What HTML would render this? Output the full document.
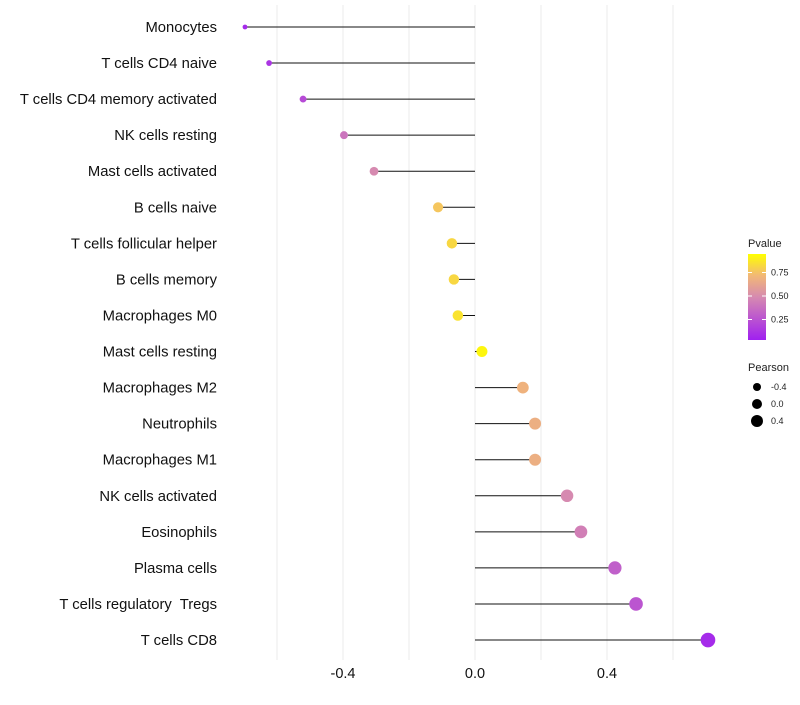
<!DOCTYPE html>
<html><head><meta charset="utf-8"><style>
body{margin:0;background:#fff;font-family:"Liberation Sans",sans-serif}
svg text{font-family:"Liberation Sans",sans-serif;white-space:pre}
</style></head><body>
<svg id="chart" width="800" height="700"></svg>
<script>
const categories=["Monocytes","T cells CD4 naive","T cells CD4 memory activated","NK cells resting","Mast cells activated","B cells naive","T cells follicular helper","B cells memory","Macrophages M0","Mast cells resting","Macrophages M2","Neutrophils","Macrophages M1","NK cells activated","Eosinophils","Plasma cells","T cells regulatory  Tregs","T cells CD8"];
const pearson=[-0.697,-0.624,-0.521,-0.397,-0.306,-0.112,-0.070,-0.064,-0.052,0.021,0.145,0.182,0.182,0.279,0.321,0.424,0.488,0.706];
const pvalue=[0.05,0.1,0.2,0.4,0.5,0.8,0.86,0.86,0.9,0.97,0.72,0.7,0.7,0.5,0.45,0.3,0.25,0.05];
const xTicks=[-0.4,0.0,0.4];
const pTicks=[0.25,0.5,0.75];
const sTicks=[-0.4,0.0,0.4];

const NS="http://www.w3.org/2000/svg";
const svg=document.getElementById('chart');
function el(t,a,p){const e=document.createElementNS(NS,t);for(const k in a)e.setAttribute(k,a[k]);(p||svg).appendChild(e);return e;}
const xS=v=>475+v*330;
const yS=i=>27+i*36.06;
function lerp(a,b,t){return a.map((v,i)=>Math.round(v+(b[i]-v)*t));}
const stops=[[0,[160,32,240]],[0.5,[214,138,176]],[0.75,[242,184,118]],[1,[255,255,0]]];
function col(p){for(let i=1;i<stops.length;i++){if(p<=stops[i][0]){const t=(p-stops[i-1][0])/(stops[i][0]-stops[i-1][0]);const c=lerp(stops[i-1][1],stops[i][1],t);return `rgb(${c})`;}}return 'rgb(255,255,0)';}
const rS=v=>Math.sqrt(4+(v+0.75)*34);

for(let v=-0.6;v<=0.61;v+=0.2){const g=el('line',{x1:xS(v),x2:xS(v),y1:5,y2:660,stroke:'#ebebeb','stroke-width':1});}
xTicks.forEach(v=>{const t=el('text',{x:xS(v),y:678,'text-anchor':'middle','font-size':14.5,fill:'#111'});t.textContent=v.toFixed(1);});
categories.forEach((c,i)=>{
 const t=el('text',{x:217,y:yS(i)+5,'text-anchor':'end','font-size':14.8,fill:'#111'});t.textContent=c;
 
 const l=el('line',{x1:xS(0),x2:xS(pearson[i]),y1:yS(i),y2:yS(i),stroke:'#111','stroke-width':1});
 
 const d=el('circle',{cx:xS(pearson[i]),cy:yS(i),r:rS(pearson[i]),fill:col(pvalue[i])});
 
});
const lt=el('text',{x:748,y:247,'font-size':11,fill:'#222'});lt.textContent='Pvalue';
const defs=el('defs',{});const gr=el('linearGradient',{id:'pg',x1:0,y1:1,x2:0,y2:0},defs);
stops.forEach(s=>el('stop',{offset:s[0],'stop-color':`rgb(${s[1]})`},gr));
const bar=el('rect',{x:748,y:254,width:18,height:86,fill:'url(#pg)'});
const pY=p=>343-p*94;
pTicks.forEach(p=>{el('line',{x1:748,x2:752,y1:pY(p),y2:pY(p),stroke:'#fff'});el('line',{x1:762,x2:766,y1:pY(p),y2:pY(p),stroke:'#fff'});const t=el('text',{x:771,y:pY(p)+3,'font-size':9,fill:'#222'});t.textContent=p.toFixed(2);});
const st=el('text',{x:748,y:371,'font-size':11,fill:'#222'});st.textContent='Pearson';
const legR=[4,5,6];
sTicks.forEach((v,i)=>{const y=387+i*17;const c=el('circle',{cx:757,cy:y,r:legR[i],fill:'#000'});const t=el('text',{x:771,y:y+3,'font-size':9,fill:'#222'});t.textContent=v.toFixed(1);});
</script>
</body></html>
